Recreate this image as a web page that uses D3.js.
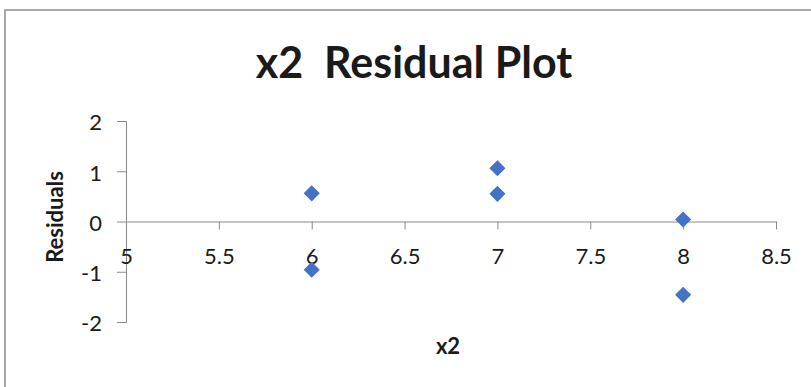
<!DOCTYPE html>
<html>
<head>
<meta charset="utf-8">
<script src="https://cdn.jsdelivr.net/npm/d3@7"></script>
<style>
  html, body { margin: 0; padding: 0; background: #fff; }
  svg { display: block; }
  text { font-family: Lato, "Open Sans", sans-serif; fill: #1a1a1a; }
</style>
</head>
<body>
<svg id="chart" width="811" height="387"></svg>
<script>
// Residuals of the regression against predictor x2
const xValues = [6, 6, 7, 7, 8, 8];
const residuals = [0.56, -0.96, 1.06, 0.55, 0.04, -1.46];
const xTicks = [5, 5.5, 6, 6.5, 7, 7.5, 8, 8.5];
const yTicks = [-2, -1, 0, 1, 2];
const chartTitle = "x2  Residual Plot";
const xTitle = "x2";
const yTitle = "Residuals";

const svg = d3.select("#chart");
const W = 811, H = 387;

// chart frame
svg.append("rect")
  .attr("x", 5).attr("y", 10)
  .attr("width", W + 10).attr("height", H + 10)
  .attr("fill", "#fff")
  .attr("stroke", "#8c8c8c").attr("stroke-width", 1.5);

const x = d3.scaleLinear().domain([5, 8.5]).range([126, 776]);
const y = d3.scaleLinear().domain([-2, 2]).range([322, 121]);

const axisColor = "#8a8a8a";
const plainNum = d => String(d); // hyphen-minus for negatives

// vertical axis with ticks on the left
const yAxis = svg.append("g")
  .attr("transform", `translate(${x(5)},0)`)
  .call(d3.axisLeft(y).tickValues(yTicks).tickSize(9).tickSizeOuter(9).tickPadding(15).tickFormat(plainNum));
yAxis.select(".domain").attr("stroke", axisColor);
yAxis.selectAll(".tick line").attr("stroke", axisColor);
yAxis.selectAll(".tick text")
  .attr("font-size", 22).attr("font-family", "Lato, sans-serif")
  .attr("fill", "#1a1a1a").attr("dy", "0.4em");

// horizontal axis through zero, labels sit below the ticks
const xAxis = svg.append("g")
  .attr("transform", `translate(0,${y(0)})`)
  .call(d3.axisBottom(x).tickValues(xTicks).tickSize(8).tickSizeOuter(0).tickPadding(19).tickFormat(plainNum));
xAxis.select(".domain").attr("stroke", axisColor);
xAxis.selectAll(".tick line").attr("stroke", axisColor);
xAxis.selectAll(".tick text")
  .attr("font-size", 22).attr("font-family", "Lato, sans-serif")
  .attr("fill", "#1a1a1a");

// diamond markers
const diamond = d3.symbol().type(d3.symbolDiamond2).size(165);
svg.append("g").selectAll("path")
  .data(xValues.map((v, i) => ({ x: v, r: residuals[i] })))
  .join("path")
  .attr("d", diamond)
  .attr("transform", d => `translate(${x(d.x)},${y(d.r)})`)
  .attr("fill", "#4472C4");

// titles
svg.append("text")
  .attr("x", 414).attr("y", 78)
  .attr("text-anchor", "middle")
  .attr("font-size", 43).attr("font-weight", "bold")
  .attr("xml:space", "preserve")
  .style("white-space", "pre")
  .text(chartTitle);

svg.append("text")
  .attr("x", 448).attr("y", 354)
  .attr("text-anchor", "middle")
  .attr("font-size", 22).attr("font-weight", "bold")
  .text(xTitle);

svg.append("text")
  .attr("transform", "translate(63,217) rotate(-90)")
  .attr("text-anchor", "middle")
  .attr("font-size", 22).attr("font-weight", "bold")
  .text(yTitle);
</script>
</body>
</html>
